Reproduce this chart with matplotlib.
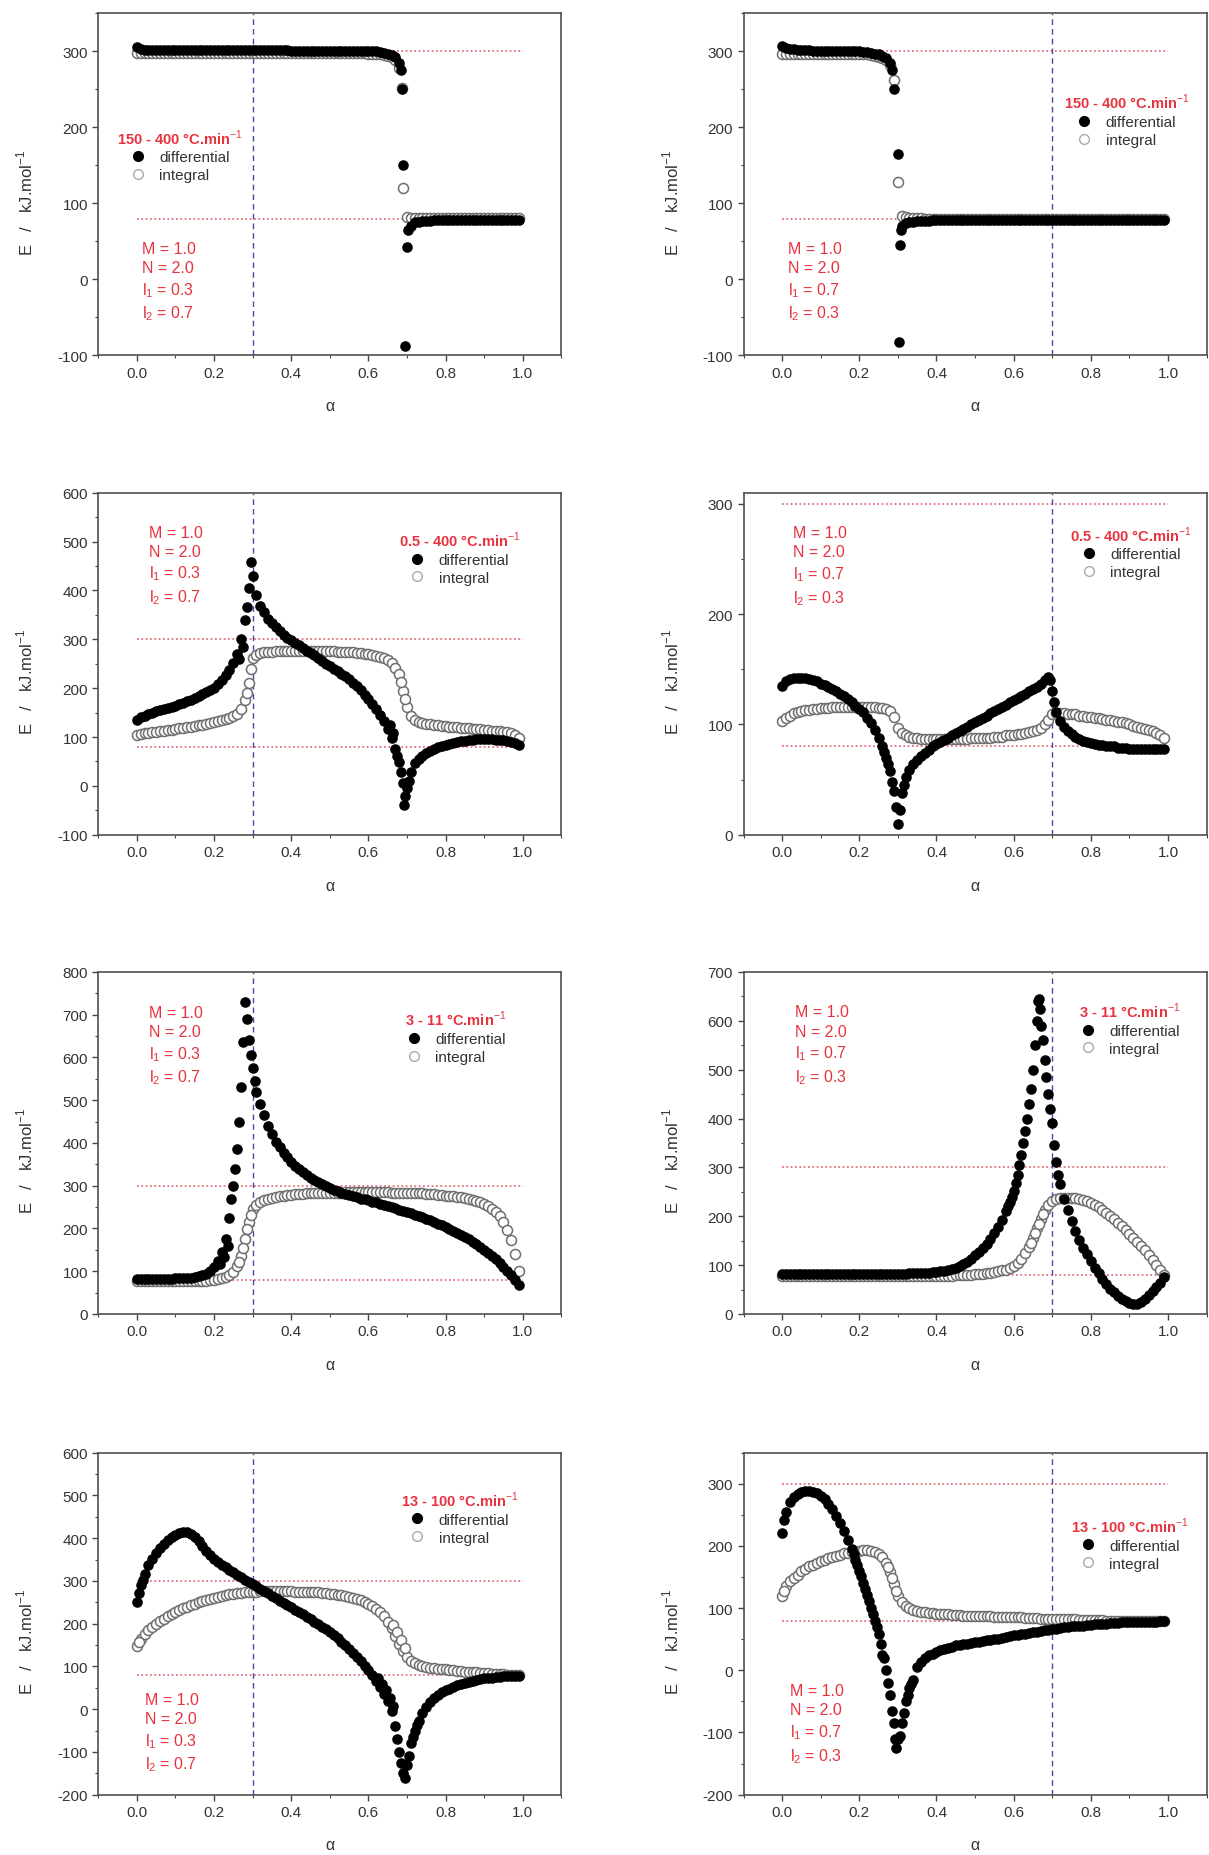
import numpy as np
import matplotlib
matplotlib.use("Agg")
import matplotlib.pyplot as plt
from matplotlib.lines import Line2D
from matplotlib.ticker import MultipleLocator, FormatStrFormatter

plt.rcParams['font.family'] = ['Liberation Sans', 'DejaVu Sans']
plt.rcParams['axes.unicode_minus'] = False
plt.rcParams['mathtext.fontset'] = 'custom'
plt.rcParams['mathtext.rm'] = 'Liberation Sans'
plt.rcParams['mathtext.bf'] = 'Liberation Sans:bold'

# ---------------- data ----------------
alpha = [round(0.01 * i, 2) for i in range(100)]   # conversion grid 0.00 ... 0.99

rates = ["150 - 400", "0.5 - 400", "3 - 11", "13 - 100"]
E_levels = [300, 80]          # activation energies of the two steps (kJ/mol)
l1_values = [0.3, 0.7]        # left column, right column
l2_values = [0.7, 0.3]

# Row 1 left (150-400, l1=0.3)
diff_1L = [305, 303, 302, 302, 302, 302, 302, 302, 302, 302,
           302, 302, 302, 302, 302, 302, 302, 302, 302, 302,
           302, 302, 302, 302, 302, 302, 302, 302, 302, 302,
           302, 302, 302, 302, 302, 302, 302, 302, 302, 302,
           301, 301, 301, 301, 301, 301, 301, 301, 301, 301,
           301, 301, 301, 301, 301, 301, 301, 301, 301, 301,
           301, 300, 300, 299, 298, 297, 295, 292, 285, 150,
           42, 70, 75, 76, 77, 77, 77, 78, 78, 78,
           78, 78, 78, 78, 78, 78, 78, 78, 78, 78,
           78, 78, 78, 78, 78, 78, 78, 78, 78, 78]
diff_1L_xx = [0.684, 0.687, 0.695, 0.703]
diff_1L_xy = [275, 250, -88, 65]
int_1L = [298, 298, 298, 298, 298, 298, 298, 298, 298, 298,
          298, 298, 298, 298, 298, 298, 298, 298, 298, 298,
          298, 298, 298, 298, 298, 298, 298, 298, 298, 298,
          298, 298, 298, 298, 298, 298, 298, 298, 298, 298,
          298, 298, 298, 298, 298, 298, 298, 298, 298, 298,
          298, 298, 298, 298, 298, 298, 298, 298, 298, 298,
          297, 297, 296, 296, 295, 294, 292, 288, 278, 120,
          82, 81, 81, 81, 81, 81, 81, 81, 81, 81,
          81, 81, 81, 81, 81, 81, 81, 81, 81, 81,
          81, 81, 81, 81, 81, 81, 81, 81, 81, 81]
int_1L_xx = [0.687]
int_1L_xy = [252]

# Row 1 right (150-400, l1=0.7)
diff_1R = [307, 304, 303, 303, 302, 302, 302, 302, 301, 301,
           301, 301, 301, 301, 301, 300, 300, 300, 300, 300,
           300, 299, 299, 298, 297, 296, 294, 291, 285, 250,
           165, 70, 74, 75, 76, 77, 77, 77, 77, 78,
           78, 78, 78, 78, 78, 78, 78, 78, 78, 78,
           78, 78, 78, 78, 78, 78, 78, 78, 78, 78,
           78, 78, 78, 78, 78, 78, 78, 78, 78, 78,
           78, 78, 78, 78, 78, 78, 78, 78, 78, 78,
           78, 78, 78, 78, 78, 78, 78, 78, 78, 78,
           78, 78, 78, 78, 78, 78, 78, 78, 78, 78]
diff_1R_xx = [0.285, 0.303, 0.306, 0.308]
diff_1R_xy = [275, -83, 45, 65]
int_1R = [296, 297, 297, 297, 297, 297, 297, 297, 297, 297,
          297, 297, 297, 297, 297, 297, 297, 297, 297, 297,
          297, 296, 296, 295, 294, 293, 291, 288, 282, 262,
          128, 83, 82, 81, 81, 81, 81, 80, 80, 80,
          80, 80, 80, 80, 80, 80, 80, 80, 80, 80,
          80, 80, 80, 80, 80, 80, 80, 80, 80, 80,
          80, 80, 80, 80, 80, 80, 80, 80, 80, 80,
          80, 80, 80, 80, 80, 80, 80, 80, 80, 80,
          80, 80, 80, 80, 80, 80, 80, 80, 80, 80,
          80, 80, 80, 80, 80, 80, 80, 80, 80, 80]
int_1R_xx = []
int_1R_xy = []

# Row 2 left (0.5-400, l1=0.3)
diff_2L = [134, 140, 144, 147, 150, 153, 155, 157, 160, 162,
           164, 167, 170, 173, 176, 180, 184, 188, 193, 197,
           201, 208, 216, 226, 238, 252, 270, 300, 340, 405,
           430, 390, 368, 355, 342, 333, 325, 316, 309, 303,
           298, 293, 288, 283, 277, 272, 267, 261, 256, 250,
           245, 240, 235, 229, 224, 218, 211, 204, 196, 187,
           178, 168, 157, 145, 132, 117, 98, 76, 49, 5,
           -5, 29, 46, 55, 62, 67, 71, 75, 79, 82,
           84, 86, 88, 90, 91, 92, 93, 94, 95, 95,
           95, 95, 95, 94, 94, 93, 92, 90, 88, 83]
diff_2L_xx = [0.265, 0.275, 0.285, 0.295, 0.655, 0.665, 0.675, 0.685, 0.692, 0.695, 0.705]
diff_2L_xy = [260, 285, 367, 458, 125, 108, 62, 28, -40, -20, 10]
int_2L = [105, 107, 108, 109, 110, 111, 112, 113, 114, 115,
          117, 118, 119, 120, 121, 122, 124, 125, 127, 128,
          130, 132, 134, 136, 139, 143, 148, 157, 175, 210,
          262, 268, 271, 273, 274, 275, 276, 276, 277, 277,
          277, 277, 277, 277, 277, 277, 277, 277, 276, 276,
          276, 276, 275, 275, 274, 274, 273, 272, 271, 270,
          269, 268, 266, 264, 261, 257, 251, 242, 228, 195,
          162, 143, 134, 130, 128, 127, 126, 125, 124, 123,
          122, 121, 121, 120, 119, 119, 118, 117, 117, 116,
          115, 114, 113, 113, 112, 111, 110, 108, 105, 99]
int_2L_xx = [0.285, 0.295, 0.685, 0.695]
int_2L_xy = [190, 240, 212, 178]

# Row 2 right (0.5-400, l1=0.7)
diff_2R = [135, 139, 141, 142, 142, 142, 142, 141, 140, 139,
           137, 136, 134, 132, 130, 128, 126, 123, 120, 117,
           114, 111, 106, 101, 95, 88, 80, 70, 58, 40,
           10, 38, 52, 59, 64, 68, 71, 74, 77, 80,
           82, 84, 86, 88, 90, 92, 94, 96, 98, 100,
           102, 104, 106, 108, 110, 112, 114, 116, 118, 120,
           122, 124, 126, 128, 130, 132, 134, 137, 140, 143,
           130, 111, 103, 98, 94, 91, 89, 87, 85, 84,
           83, 82, 81, 81, 80, 80, 80, 79, 79, 79,
           78, 78, 78, 78, 78, 78, 78, 78, 78, 78]
diff_2R_xx = [0.265, 0.275, 0.285, 0.295, 0.305, 0.315, 0.695, 0.705]
diff_2R_xy = [75, 64, 48, 25, 22, 45, 140, 120]
int_2R = [103, 106, 108, 110, 111, 112, 113, 113, 114, 114,
          115, 115, 115, 116, 116, 116, 116, 116, 116, 116,
          116, 116, 116, 116, 116, 115, 115, 114, 112, 107,
          97, 92, 90, 89, 88, 88, 87, 87, 87, 87,
          87, 87, 87, 87, 87, 87, 87, 87, 87, 88,
          88, 88, 88, 88, 88, 89, 89, 89, 90, 90,
          90, 91, 91, 92, 93, 94, 95, 97, 100, 104,
          109, 110, 110, 110, 109, 109, 109, 108, 108, 107,
          107, 106, 106, 105, 104, 104, 103, 102, 102, 101,
          100, 99, 98, 97, 96, 95, 94, 92, 90, 88]
int_2R_xx = []
int_2R_xy = []

# Row 3 left (3-11, l1=0.3)
diff_3L = [82, 82, 82, 82, 82, 82, 82, 82, 82, 82,
           83, 83, 84, 84, 85, 86, 88, 90, 94, 100,
           110, 125, 145, 175, 225, 300, 385, 530, 730, 640,
           575, 520, 490, 465, 440, 420, 403, 390, 377, 366,
           356, 347, 339, 332, 325, 319, 313, 308, 303, 299,
           295, 291, 287, 284, 281, 278, 275, 273, 270, 268,
           266, 263, 261, 258, 256, 253, 250, 247, 244, 241,
           238, 235, 232, 229, 226, 222, 219, 215, 211, 207,
           203, 199, 194, 190, 185, 180, 175, 169, 163, 157,
           150, 143, 136, 128, 120, 111, 101, 91, 80, 68]
diff_3L_xx = [0.215, 0.225, 0.235, 0.245, 0.255, 0.265, 0.275, 0.285, 0.295, 0.305]
diff_3L_xy = [117, 134, 160, 270, 340, 450, 635, 690, 605, 545]
int_3L = [77, 77, 77, 77, 77, 77, 77, 77, 77, 77,
          77, 77, 77, 77, 77, 77, 78, 78, 78, 79,
          80, 81, 83, 86, 91, 98, 112, 135, 175, 215,
          245, 256, 262, 266, 269, 272, 274, 276, 277, 278,
          279, 280, 281, 281, 282, 282, 283, 283, 283, 284,
          284, 284, 284, 284, 285, 285, 285, 285, 285, 285,
          285, 285, 285, 285, 285, 285, 284, 284, 284, 284,
          283, 283, 283, 282, 282, 281, 281, 280, 279, 278,
          277, 276, 275, 274, 273, 271, 269, 267, 264, 261,
          257, 252, 246, 238, 228, 215, 197, 172, 140, 100]
int_3L_xx = [0.265, 0.275, 0.285, 0.295]
int_3L_xy = [122, 155, 198, 232]

# Row 3 right (3-11, l1=0.7)
diff_3R = [82, 82, 82, 82, 82, 82, 82, 82, 82, 82,
           82, 82, 82, 82, 82, 82, 82, 82, 82, 82,
           82, 82, 82, 82, 82, 82, 82, 82, 82, 82,
           82, 82, 82, 83, 83, 83, 83, 84, 84, 85,
           86, 87, 88, 90, 92, 95, 98, 102, 107, 113,
           120, 127, 135, 143, 153, 165, 178, 193, 211, 230,
           252, 285, 325, 375, 430, 500, 600, 590, 520, 450,
           390, 310, 265, 235, 212, 190, 170, 152, 136, 122,
           109, 95, 83, 72, 62, 52, 44, 37, 31, 26,
           22, 20, 21, 25, 31, 38, 46, 55, 64, 75]
diff_3R_xx = [0.585, 0.595, 0.605, 0.615, 0.625, 0.635, 0.645, 0.655, 0.662, 0.665,
              0.668, 0.675, 0.685, 0.695, 0.705, 0.715]
diff_3R_xy = [220, 240, 268, 305, 350, 400, 460, 550, 640, 645,
              625, 560, 485, 420, 345, 285]
int_3R = [78, 78, 78, 78, 78, 78, 78, 78, 78, 78,
          78, 78, 78, 78, 78, 78, 78, 78, 78, 78,
          78, 78, 78, 78, 78, 78, 78, 78, 78, 78,
          78, 78, 78, 78, 78, 78, 78, 78, 78, 78,
          78, 78, 78, 78, 78, 79, 79, 79, 80, 80,
          81, 81, 82, 83, 84, 85, 87, 89, 91, 95,
          99, 105, 113, 124, 138, 155, 175, 195, 212, 224,
          231, 235, 237, 238, 238, 238, 237, 236, 234, 231,
          227, 223, 218, 213, 207, 201, 194, 187, 180, 172,
          164, 156, 147, 139, 130, 121, 111, 101, 90, 79]
int_3R_xx = [0.645, 0.655, 0.665, 0.675]
int_3R_xy = [146, 165, 185, 204]

# Row 4 left (13-100, l1=0.3)
diff_4L = [250, 290, 315, 337, 352, 365, 377, 387, 396, 402,
           408, 412, 414, 414, 410, 403, 393, 381, 370, 360,
           351, 344, 338, 332, 326, 320, 314, 309, 303, 298,
           292, 287, 281, 276, 271, 265, 260, 254, 249, 243,
           238, 232, 227, 222, 216, 211, 205, 199, 193, 187,
           180, 173, 166, 158, 150, 141, 132, 122, 112, 102,
           91, 79, 66, 52, 36, 18, -5, -40, -100, -150,
           -130, -80, -50, -27, -9, 5, 16, 25, 33, 39,
           44, 48, 52, 56, 59, 62, 64, 66, 68, 70,
           72, 73, 74, 75, 76, 77, 77, 78, 78, 78]
diff_4L_xx = [0.005, 0.015, 0.625, 0.635, 0.645, 0.655, 0.665, 0.675, 0.685, 0.695,
              0.705, 0.715, 0.725]
diff_4L_xy = [272, 303, 73, 59, 44, 27, 7, -70, -125, -160,
              -110, -65, -38]
int_4L = [148, 165, 176, 185, 193, 200, 206, 212, 218, 223,
          228, 232, 236, 240, 243, 247, 250, 253, 256, 258,
          261, 263, 265, 267, 269, 270, 271, 272, 273, 274,
          275, 275, 276, 276, 276, 276, 276, 276, 276, 276,
          276, 275, 275, 275, 274, 274, 273, 273, 272, 271,
          270, 269, 268, 267, 265, 263, 261, 258, 255, 251,
          246, 241, 235, 227, 217, 205, 190, 172, 153, 135,
          122, 112, 107, 104, 101, 99, 97, 96, 95, 94,
          93, 92, 91, 90, 89, 88, 87, 86, 86, 85,
          84, 84, 83, 83, 82, 82, 81, 81, 80, 80]
int_4L_xx = [0.005, 0.665, 0.675, 0.685, 0.695]
int_4L_xy = [156, 198, 181, 162, 144]

# Row 4 right (13-100, l1=0.7)
diff_4R = [221, 255, 270, 278, 283, 286, 288, 288, 287, 285,
           280, 275, 268, 259, 248, 237, 224, 210, 195, 178,
           160, 141, 121, 100, 80, 58, 25, 0, -40, -85,
           -110, -85, -50, -29, -15, 5, 13, 19, 24, 27,
           29, 32, 34, 36, 38, 40, 41, 42, 43, 44,
           45, 46, 47, 48, 49, 50, 51, 52, 54, 55,
           56, 57, 58, 59, 60, 61, 62, 63, 64, 65,
           66, 67, 68, 69, 70, 71, 71, 72, 72, 73,
           73, 74, 74, 75, 75, 76, 76, 76, 77, 77,
           77, 77, 78, 78, 78, 78, 78, 78, 79, 79]
diff_4R_xx = [0.005, 0.185, 0.195, 0.205, 0.215, 0.225, 0.235, 0.245, 0.255,
              0.265, 0.275, 0.285, 0.293, 0.296, 0.305, 0.315, 0.325, 0.335]
diff_4R_xy = [242, 187, 170, 151, 131, 111, 90, 69, 42,
              20, -20, -65, -110, -125, -105, -68, -40, -22]
int_4R = [120, 135, 143, 149, 154, 159, 163, 167, 170, 173,
          176, 178, 180, 182, 184, 186, 188, 189, 190, 191,
          192, 193, 193, 192, 190, 187, 182, 173, 158, 138,
          120, 110, 104, 100, 97, 95, 94, 93, 92, 92,
          91, 91, 90, 90, 89, 89, 89, 88, 88, 88,
          88, 87, 87, 87, 87, 86, 86, 86, 86, 85,
          85, 85, 85, 84, 84, 84, 84, 83, 83, 83,
          83, 83, 82, 82, 82, 82, 82, 81, 81, 81,
          81, 81, 81, 81, 80, 80, 80, 80, 80, 80,
          80, 80, 80, 80, 80, 80, 80, 80, 80, 80]
int_4R_xx = [0.005, 0.275, 0.285, 0.295]
int_4R_xy = [128, 166, 148, 128]

ylims = [(-100, 350), (-100, 350), (-100, 600), (0, 310),
         (0, 800), (0, 700), (-200, 600), (-200, 350)]

# ---------------- layout ----------------
RED = '#e8333f'
REFCOL = '#e4707c'
BLUE = '#4848a8'
GREY = '#6e6e6e'

panels = [
    (diff_1L, diff_1L_xx, diff_1L_xy, int_1L, int_1L_xx, int_1L_xy),
    (diff_1R, diff_1R_xx, diff_1R_xy, int_1R, int_1R_xx, int_1R_xy),
    (diff_2L, diff_2L_xx, diff_2L_xy, int_2L, int_2L_xx, int_2L_xy),
    (diff_2R, diff_2R_xx, diff_2R_xy, int_2R, int_2R_xx, int_2R_xy),
    (diff_3L, diff_3L_xx, diff_3L_xy, int_3L, int_3L_xx, int_3L_xy),
    (diff_3R, diff_3R_xx, diff_3R_xy, int_3R, int_3R_xx, int_3R_xy),
    (diff_4L, diff_4L_xx, diff_4L_xy, int_4L, int_4L_xx, int_4L_xy),
    (diff_4R, diff_4R_xx, diff_4R_xy, int_4R, int_4R_xx, int_4R_xy),
]

col_x0 = [0.0813, 0.615]
ax_w = 0.383
row_y0 = [0.808, 0.5497, 0.2915, 0.0325]
ax_h = 0.1843

# legend anchor (title top-centre) and parameter text anchor, axes fractions
leg_pos = [(0.176, 0.689), (0.827, 0.792), (0.78, 0.914), (0.837, 0.93),
           (0.772, 0.914), (0.834, 0.938), (0.78, 0.914), (0.834, 0.838)]
par_pos = [(0.095, 0.335), (0.097, 0.335), (0.11, 0.907), (0.107, 0.905),
           (0.11, 0.903), (0.112, 0.905), (0.10, 0.30), (0.10, 0.326)]

fig = plt.figure(figsize=(12.09, 18.56), dpi=100)

for k, (dy, dxx, dxy, iy, ixx, ixy) in enumerate(panels):
    row, col = divmod(k, 2)
    assert len(dy) == len(alpha) and len(iy) == len(alpha), k
    assert len(dxx) == len(dxy) and len(ixx) == len(ixy), k
    ax = fig.add_axes([col_x0[col], row_y0[row], ax_w, ax_h])
    ax.set_xlim(-0.1, 1.1)
    ax.set_ylim(*ylims[k])

    for lev in E_levels:
        ax.hlines(lev, alpha[0], 1.0, colors=REFCOL, linestyles=(0, (1, 1.4)),
                  linewidth=1.3, zorder=1)
    ax.axvline(l1_values[col], color=BLUE, linestyle=(0, (4, 3)), linewidth=1.0, zorder=1)

    ax.scatter(list(alpha) + list(ixx), list(iy) + list(ixy), s=52,
               facecolors='white', edgecolors=GREY, linewidths=1.1, zorder=2, clip_on=True)
    ax.scatter(list(alpha) + list(dxx), list(dy) + list(dxy), s=58,
               color='black', linewidths=0, zorder=3, clip_on=True)

    ax.xaxis.set_major_locator(MultipleLocator(0.2))
    ax.xaxis.set_minor_locator(MultipleLocator(0.1))
    ax.xaxis.set_major_formatter(FormatStrFormatter('%.1f'))
    ax.yaxis.set_major_locator(MultipleLocator(100))
    ax.yaxis.set_minor_locator(MultipleLocator(50))
    ax.tick_params(which='both', direction='out', colors='#444444', labelcolor='#333333',
                   labelsize=11, top=False, right=False)
    ax.tick_params(which='major', length=4, width=1)
    ax.tick_params(which='minor', length=2.5, width=0.8)
    for sp in ax.spines.values():
        sp.set_color('#505050')
        sp.set_linewidth(1.2)

    ax.set_xlabel('α', fontsize=11.5, color='#333333')
    ax.xaxis.set_label_coords(0.5, -0.125)
    ax.set_ylabel('E   /   kJ.mol$^{-1}$', fontsize=12, color='#333333')
    ax.yaxis.set_label_coords(-0.135, 0.45)

    h_d = Line2D([], [], marker='o', linestyle='none', markerfacecolor='black',
                 markeredgecolor='black', markersize=7)
    h_i = Line2D([], [], marker='o', linestyle='none', markerfacecolor='white',
                 markeredgecolor='#aaaaaa', markersize=7)
    leg = ax.legend([h_d, h_i], ['differential', 'integral'],
                    title=rates[row] + ' °C.min$^{-1}$', loc='upper center',
                    bbox_to_anchor=leg_pos[k], frameon=False, borderpad=0,
                    handlelength=1.0, handletextpad=0.9, labelspacing=0.25,
                    fontsize=11, title_fontproperties={'weight': 'bold', 'size': 10.5})
    leg.get_title().set_color(RED)
    for t in leg.get_texts():
        t.set_color('#333333')

    ax.text(par_pos[k][0], par_pos[k][1],
            'M = 1.0\nN = 2.0\nl$_1$ = %.1f\nl$_2$ = %.1f' % (l1_values[col], l2_values[col]),
            transform=ax.transAxes, ha='left', va='top', color=RED, fontsize=11.5,
            linespacing=1.35)

fig.savefig('out.png', dpi=100, facecolor='white')
